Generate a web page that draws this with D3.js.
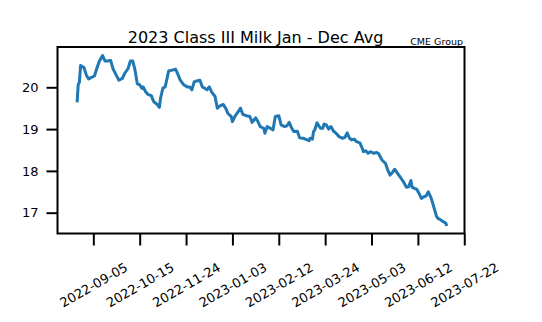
<!DOCTYPE html>
<html><head><meta charset="utf-8">
<script src="https://cdn.jsdelivr.net/npm/d3@7"></script>
<style>body{margin:0;background:#fff}svg text{font-family:"DejaVu Sans",sans-serif;fill:#000}</style>
</head><body><svg id="c" width="542" height="322"></svg>
<script>
const dates = ["2022-08-22","2022-08-23","2022-08-24","2022-08-25","2022-08-28","2022-08-30","2022-09-01","2022-09-03","2022-09-06","2022-09-08",
"2022-09-10","2022-09-13","2022-09-15","2022-09-17","2022-09-20","2022-09-22","2022-09-25","2022-09-27","2022-09-30","2022-10-02",
"2022-10-05","2022-10-07","2022-10-09","2022-10-11","2022-10-13","2022-10-15","2022-10-17","2022-10-18","2022-10-20","2022-10-22",
"2022-10-25","2022-10-27","2022-10-30","2022-11-01","2022-11-02","2022-11-04","2022-11-06","2022-11-09","2022-11-12","2022-11-15",
"2022-11-17","2022-11-19","2022-11-22","2022-11-25","2022-11-27","2022-11-29","2022-12-01","2022-12-03","2022-12-06","2022-12-08",
"2022-12-10","2022-12-12","2022-12-14","2022-12-16","2022-12-19","2022-12-21","2022-12-23","2022-12-26","2022-12-28","2022-12-30",
"2023-01-02","2023-01-03","2023-01-05","2023-01-08","2023-01-10","2023-01-12","2023-01-15","2023-01-18","2023-01-20","2023-01-23",
"2023-01-25","2023-01-27","2023-01-30","2023-01-31","2023-02-02","2023-02-04","2023-02-07","2023-02-09","2023-02-12","2023-02-14",
"2023-02-17","2023-02-19","2023-02-21","2023-02-23","2023-02-25","2023-02-28","2023-03-02","2023-03-05","2023-03-08","2023-03-10",
"2023-03-11","2023-03-13","2023-03-14","2023-03-15","2023-03-17","2023-03-18","2023-03-20","2023-03-22","2023-03-23","2023-03-25",
"2023-03-27","2023-03-29","2023-03-31","2023-04-02","2023-04-05","2023-04-08","2023-04-10","2023-04-12","2023-04-14","2023-04-16",
"2023-04-18","2023-04-20","2023-04-23","2023-04-25","2023-04-26","2023-04-28","2023-04-30","2023-05-02","2023-05-05","2023-05-07",
"2023-05-09","2023-05-12","2023-05-15","2023-05-17","2023-05-19","2023-05-21","2023-05-23","2023-05-25","2023-05-27","2023-05-29",
"2023-05-31","2023-06-02","2023-06-04","2023-06-06","2023-06-07","2023-06-09","2023-06-11","2023-06-13","2023-06-15","2023-06-17",
"2023-06-19","2023-06-21","2023-06-23","2023-06-24","2023-06-26","2023-06-28","2023-06-29","2023-07-01","2023-07-03","2023-07-06",
"2023-07-07"];
const values = [19.64,20.07,20.12,20.52,20.47,20.29,20.20,20.23,20.27,20.45,
20.61,20.76,20.63,20.63,20.64,20.44,20.28,20.17,20.21,20.33,
20.45,20.63,20.63,20.41,20.08,20.06,19.97,20.01,19.90,19.83,
19.80,19.66,19.59,19.52,19.74,19.98,20.01,20.39,20.41,20.43,
20.31,20.17,20.06,20.01,20.01,19.94,20.13,20.15,20.17,20.01,
19.98,19.94,20.01,19.89,19.78,19.50,19.55,19.59,19.51,19.38,
19.30,19.18,19.30,19.42,19.50,19.35,19.32,19.30,19.16,19.27,
19.18,19.06,19.02,18.90,19.06,19.03,18.98,19.30,19.32,19.10,
19.06,19.08,19.16,19.03,18.94,18.95,18.79,18.78,18.75,18.72,
18.78,18.76,18.94,18.98,19.15,19.10,19.02,19.02,19.12,19.10,
19.00,19.06,18.96,18.91,18.82,18.78,18.80,18.91,18.78,18.74,
18.76,18.70,18.67,18.54,18.46,18.48,18.42,18.46,18.42,18.44,
18.42,18.26,18.18,18.02,17.90,17.96,18.04,17.96,17.88,17.80,
17.72,17.61,17.62,17.77,17.61,17.58,17.56,17.46,17.34,17.38,
17.40,17.50,17.38,17.30,17.11,16.92,16.87,16.84,16.80,16.75,
16.68];
const xTickLabels = ["2022-09-05","2022-10-15","2022-11-24","2023-01-03","2023-02-12","2023-03-24","2023-05-03","2023-06-12","2023-07-22"];
const yTickValues = [17,18,19,20];
const title = "2023 Class III Milk Jan - Dec Avg";
const source = "CME Group";

const svg = d3.select("#c");
svg.append("rect").attr("width",542).attr("height",322).attr("fill","#fff");
const m = {left:57.5, right:464.5, top:47, bottom:233.5};
const parse = d3.utcParse("%Y-%m-%d");
const day = 86400000;
const ref = parse(xTickLabels[0]);
const x = d3.scaleUtc().domain([new Date(+ref - 30.9*day), new Date(+ref + 320.2*day)]).range([m.left, m.right]);
const y = d3.scaleLinear().domain([16.502, 20.964]).range([m.bottom, m.top]);

const data = dates.map((d,i)=>({d:parse(d), v:values[i]}));

// line
svg.append("path").datum(data)
  .attr("fill","none").attr("stroke","#1f77b4").attr("stroke-width",3)
  .attr("stroke-linejoin","round").attr("stroke-linecap","butt")
  .attr("d", d3.line().x(p=>x(p.d)).y(p=>y(p.v)));

// x axis
const gx = svg.append("g").attr("transform",`translate(0,${m.bottom})`)
  .call(d3.axisBottom(x).tickValues(xTickLabels.map(parse)).tickFormat(d3.utcFormat("%Y-%m-%d")).tickSize(12));
gx.select(".domain").remove();
gx.selectAll(".tick line").attr("stroke","#000").attr("stroke-width",2);
gx.selectAll(".tick text").attr("font-size",13).attr("font-family","DejaVu Sans")
  .attr("y",0).attr("dy",0).attr("text-anchor","middle").attr("dominant-baseline","central")
  .attr("transform","translate(0,51.5) rotate(-30)");

// y axis
const gy = svg.append("g").attr("transform",`translate(${m.left},0)`)
  .call(d3.axisLeft(y).tickValues(yTickValues).tickFormat(d3.format("d")).tickSize(11).tickPadding(8));
gy.select(".domain").remove();
gy.selectAll(".tick line").attr("stroke","#000").attr("stroke-width",2);
gy.selectAll(".tick text").attr("font-size",13).attr("font-family","DejaVu Sans");

// spines
svg.append("rect").attr("x",m.left).attr("y",m.top).attr("width",m.right-m.left).attr("height",m.bottom-m.top)
  .attr("fill","none").attr("stroke","#000").attr("stroke-width",2);

// title
svg.append("text").attr("x",255.5).attr("y",43).attr("text-anchor","middle").attr("font-size",16).text(title);
svg.append("text").attr("x",463).attr("y",44.5).attr("text-anchor","end").attr("font-size",9.5).text(source);
</script></body></html>
